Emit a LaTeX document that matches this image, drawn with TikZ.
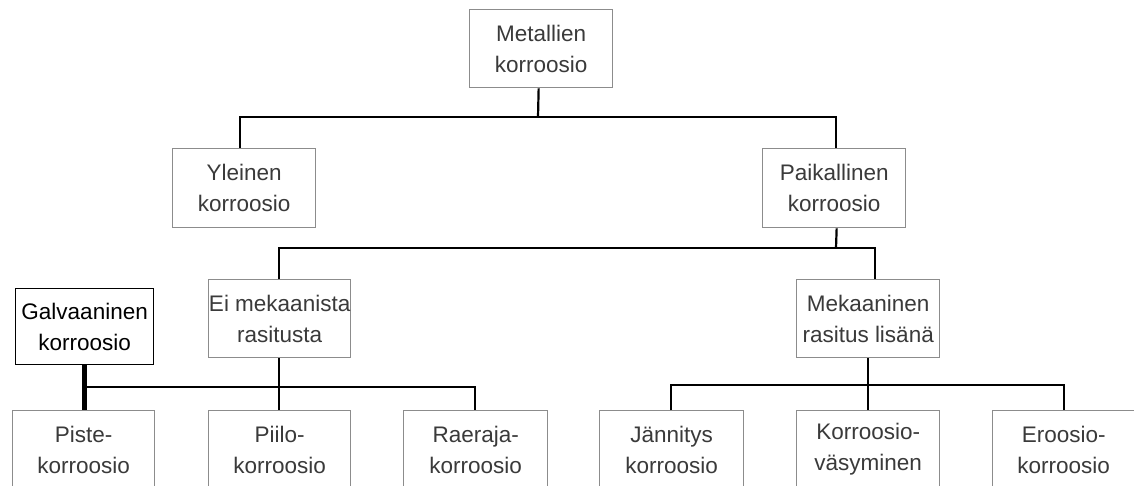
\documentclass[tikz,border=0pt]{standalone}
\usepackage{fontspec}
\setmainfont{Liberation Sans}
\definecolor{txt}{HTML}{3A3A3A}
\definecolor{bord}{HTML}{8C8C8C}
\begin{document}
\begin{tikzpicture}[x=1pt,y=-1pt,
  box/.style={draw=bord,line width=1.3pt,fill=white,text=txt,inner sep=0pt,
    align=center,anchor=north west,minimum width=143pt,minimum height=78pt,
    font=\fontsize{22.5}{31}\selectfont},
  darkbox/.style={box,draw=black,text=black},
  conn/.style={line width=2.2pt,black,line join=miter}]
\useasboundingbox[fill=white] (0,0) rectangle (1134,486);
\clip (0,0) rectangle (1134,486);
% level 0
\node[box] (met) at (469,9) {Metallien\\korroosio};
% level 1
\node[box] (yle) at (172,148) [minimum height=79pt] {Yleinen\\korroosio};
\node[box] (pai) at (762,148) [minimum height=79pt] {Paikallinen\\korroosio};
% level 2
\node[box] (ei) at (208,279) [minimum width=142pt] {Ei mekaanista\\rasitusta};
\node[box] (mek) at (796,279) {Mekaaninen\\rasitus lisänä};
\node[darkbox] (gal) at (15,288) [minimum width=138pt,minimum height=76pt] {Galvaaninen\\korroosio};
% level 3
\node[box] (pis) at (12,410) [minimum width=142pt] {Piste-\\korroosio};
\node[box] (pii) at (208,410) [minimum width=142pt] {Piilo-\\korroosio};
\node[box] (rae) at (403,410) [minimum width=144pt] {Raeraja-\\korroosio};
\node[box] (jan) at (599,410) [minimum width=144pt] {Jännitys\\korroosio};
\node[box] (kor) at (796,410) {Korroosio-\\väsyminen};
\node[box] (ero) at (992,410) [minimum width=142pt] {Eroosio-\\korroosio};
% junction coordinates
\coordinate (j1) at (538,117);
\coordinate (j2) at (836,248);
\coordinate (j3) at (278,387);
\coordinate (j4) at (867,385);
% connectors
\draw[conn] ([xshift=-2.5pt]met.south) -- (j1);
\draw[conn] ([xshift=-4.5pt]yle.north) |- (j1) -| ([xshift=1.5pt]pai.north);
\draw[conn] ([xshift=2.5pt]pai.south) -- (j2);
\draw[conn] ([xshift=-1pt]ei.north) |- (j2) -| ([xshift=6.5pt]mek.north);
\draw[conn] ([xshift=-1pt]ei.south) -- ([xshift=-1pt]pii.north);
\draw[conn] (gal.south |- j3) -| ([xshift=-1pt]rae.north);
\draw[line width=4.5pt,black] (gal.south) -- (pis.north -| gal.south);
\draw[conn] ([xshift=-0.5pt]mek.south) -- ([xshift=-0.5pt]kor.north);
\draw[conn] ([xshift=-1pt]jan.north) |- (j4) -| (ero.north);
\end{tikzpicture}
\end{document}
